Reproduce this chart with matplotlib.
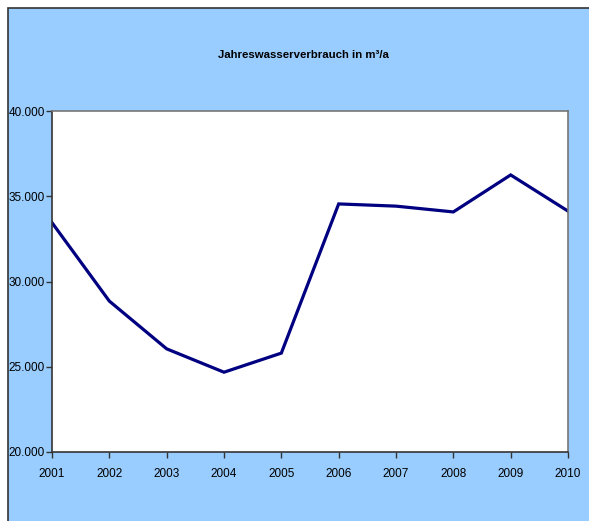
import matplotlib.pyplot as plt
from matplotlib.patches import Rectangle
from matplotlib.ticker import FuncFormatter

jahre = [2001, 2002, 2003, 2004, 2005, 2006, 2007, 2008, 2009, 2010]
verbrauch = [33450, 28850, 26050, 24680, 25800, 34550, 34420, 34080, 36250, 34130]

titel = "Jahreswasserverbrauch in m³/a"

plt.rcParams["font.family"] = ["Liberation Sans", "DejaVu Sans"]

fig = plt.figure(figsize=(5.89, 5.21), dpi=100)
fig.patch.set_facecolor("white")

# blauer Diagrammbereich mit Rahmen
hintergrund = Rectangle((8 / 589, -0.01), 1.0, 1 - 8 / 521 + 0.01, transform=fig.transFigure,
                        facecolor="#99CCFF", edgecolor="#333333", linewidth=1.2, zorder=-10)
fig.add_artist(hintergrund)

ax = fig.add_axes([52 / 589, 1 - 452 / 521, (568 - 52) / 589, (452 - 111) / 521])
ax.set_zorder(5)
ax.set_facecolor("white")
ax.plot(jahre, verbrauch, color="#000080", linewidth=2.3, solid_joinstyle="miter")

ax.set_xlim(2001, 2010)
ax.set_ylim(20000, 40000)
ax.set_xticks(jahre)
ax.set_yticks(range(20000, 40001, 5000))
ax.yaxis.set_major_formatter(FuncFormatter(lambda v, _: f"{int(v):,}".replace(",", ".")))

for seite in ["left", "bottom"]:
    ax.spines[seite].set_color("#333333")
    ax.spines[seite].set_linewidth(1.2)
for seite in ["top", "right"]:
    ax.spines[seite].set_color("#777777")
    ax.spines[seite].set_linewidth(1.2)

ax.tick_params(axis="both", direction="out", length=4, width=1, color="#333333",
               labelsize=8.5, labelcolor="black")
ax.tick_params(axis="x", pad=7.5)
ax.tick_params(axis="y", pad=1)

fig.text(303 / 589, 1 - 55 / 521, titel, ha="center", va="center",
         fontsize=8.2, fontweight="bold")

fig.savefig("out.png", dpi=100)
